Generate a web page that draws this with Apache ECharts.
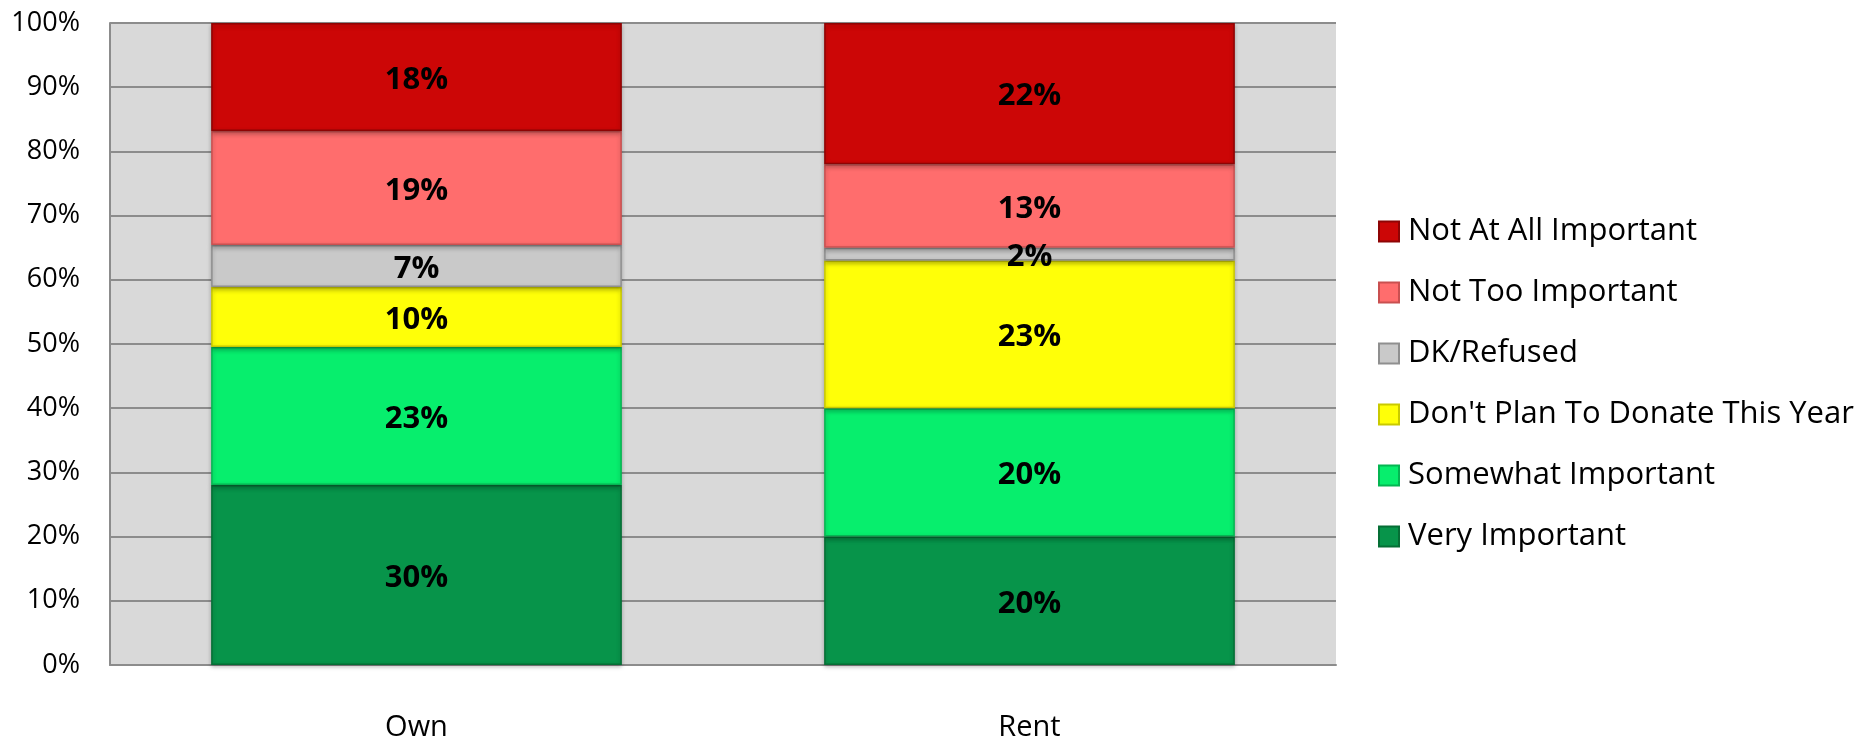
<!DOCTYPE html>
<html>
<head>
<meta charset="utf-8">
<script src="https://cdn.jsdelivr.net/npm/echarts@6/dist/echarts.min.js"></script>
<style>
  html, body { margin: 0; padding: 0; background: #ffffff; }
  #chart { width: 1875px; height: 738px; }
</style>
</head>
<body>
<div id="chart"></div>
<script>
// categories and raw survey answers (labels show these; bars are 100% stacked)
const categories = ["Own", "Rent"];
const seriesNames = [
  "Very Important",
  "Somewhat Important",
  "Don't Plan To Donate This Year",
  "DK/Refused",
  "Not Too Important",
  "Not At All Important",
];
const veryImportant = [30, 20];
const somewhatImportant = [23, 20];
const dontPlan = [10, 23];
const dkRefused = [7, 2];
const notTooImportant = [19, 13];
const notAtAllImportant = [18, 22];
const yTicks = [0, 10, 20, 30, 40, 50, 60, 70, 80, 90, 100];

const rawSeries = [veryImportant, somewhatImportant, dontPlan, dkRefused, notTooImportant, notAtAllImportant];
const colors = ["#07944A", "#07EE6D", "#FFFF08", "#C9C9C9", "#FF6D6D", "#CC0606"];
const borders = ["#056E35", "#05B552", "#C9C900", "#8F8F8F", "#C95050", "#8E0404"];

const totals = categories.map((_, i) => rawSeries.reduce((s, arr) => s + arr[i], 0));

const FONT = "'Open Sans', 'Noto Sans', sans-serif";

const series = rawSeries.map((vals, k) => ({
  name: seriesNames[k],
  type: "bar",
  stack: "total",
  barCategoryGap: "33%",
  data: vals.map((v, i) => ({ value: (v / totals[i]) * 100, raw: v })),
  itemStyle: {
    color: colors[k],
    borderColor: borders[k],
    borderWidth: 1.5,
    shadowColor: "rgba(0,0,0,0.25)",
    shadowBlur: 4,
    shadowOffsetY: 2,
  },
  label: {
    show: true,
    position: "inside",
    offset: [0, 3],
    color: "#000",
    fontFamily: FONT,
    fontWeight: "bold",
    fontSize: 31,
    formatter: (p) => p.data.raw + "%",
  },
}));

const chart = echarts.init(document.getElementById("chart"));
chart.setOption({
  animation: false,
  grid: {
    left: 110,
    right: 539,
    top: 23,
    bottom: 73,
    show: true,
    backgroundColor: "#D9D9D9",
    borderWidth: 0,
    containLabel: false,
    outerBoundsMode: "none",
  },
  legend: {
    orient: "vertical",
    left: 1373,
    top: 211,
    icon: "rect",
    itemWidth: 20,
    itemHeight: 20,
    itemGap: 30,
    data: seriesNames.slice().reverse(),
    textStyle: { color: "#000", fontFamily: FONT, fontSize: 31, lineHeight: 20, padding: [0, 0, 0, 4] },
  },
  xAxis: {
    type: "category",
    data: categories,
    axisLine: { show: true, lineStyle: { color: "#8C8C8C", width: 2 } },
    axisTick: { show: false },
    axisLabel: { color: "#000", fontFamily: FONT, fontSize: 29, margin: 48 },
  },
  yAxis: {
    type: "value",
    min: 0,
    max: 100,
    interval: 10,
    axisLine: { show: true, lineStyle: { color: "#8C8C8C", width: 2 } },
    axisTick: { show: false },
    splitLine: { show: true, lineStyle: { color: "#8C8C8C", width: 2 } },
    axisLabel: {
      color: "#000",
      fontFamily: FONT,
      fontSize: 27,
      margin: 30,
      formatter: (v) => (yTicks.includes(v) ? v + "%" : ""),
    },
  },
  series: series,
});
</script>
</body>
</html>
